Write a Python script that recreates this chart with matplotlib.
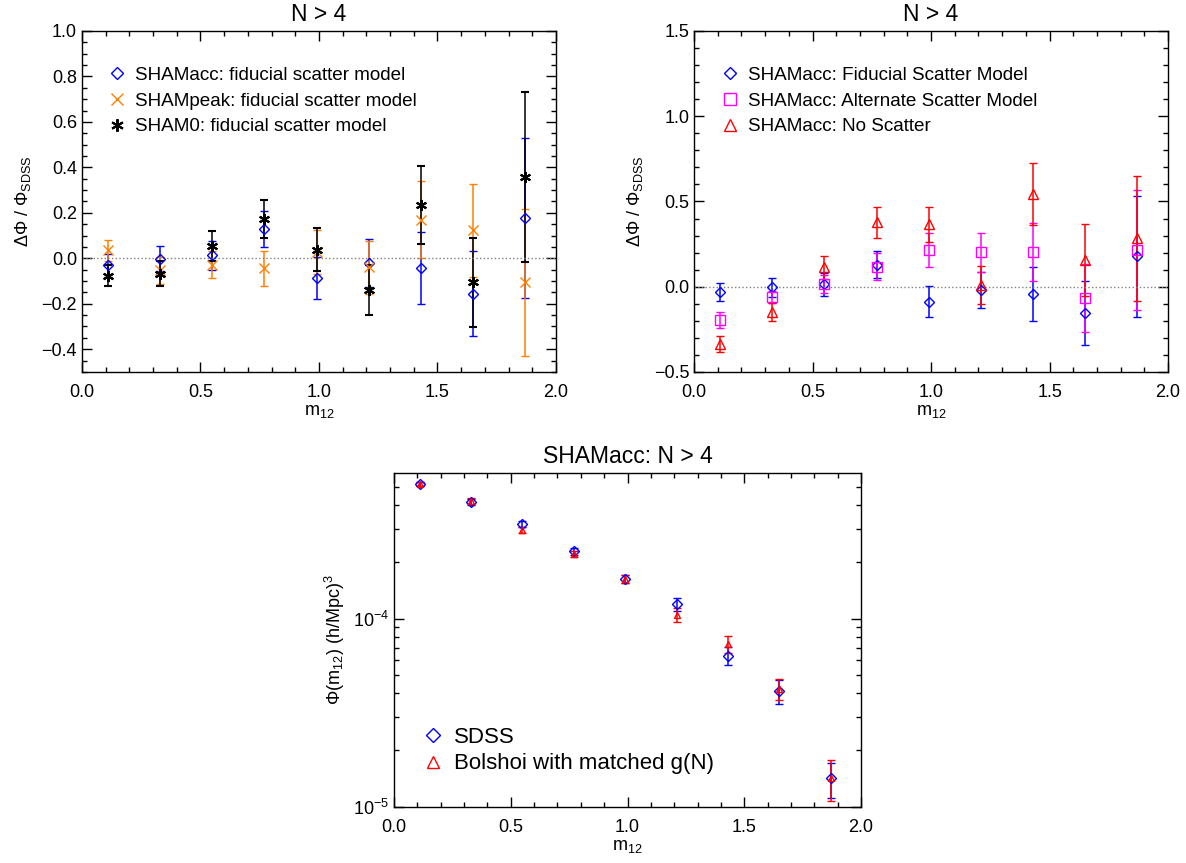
import numpy as np
from matplotlib import pyplot as plt
from matplotlib.lines import Line2D
from matplotlib.ticker import MultipleLocator, NullFormatter, LogLocator

plt.rcParams['font.family'] = ['Liberation Sans', 'DejaVu Sans']
plt.rcParams['mathtext.fontset'] = 'custom'
plt.rcParams['mathtext.rm'] = 'Liberation Sans'
plt.rcParams['mathtext.it'] = 'Liberation Sans:italic'
plt.rcParams['mathtext.default'] = 'regular'

# m12 bin centres (same for every panel)
m12 = [0.11, 0.33, 0.55, 0.77, 0.99, 1.21, 1.43, 1.65, 1.87]

# top left: different SHAM flavours, fiducial scatter
acc_fid = [-0.031, -0.003, 0.013, 0.130, -0.087, -0.021, -0.043, -0.156, 0.178]
acc_fid_err = [0.050, 0.055, 0.065, 0.080, 0.092, 0.105, 0.160, 0.188, 0.353]
peak_fid = [0.035, -0.053, -0.028, -0.043, 0.028, -0.040, 0.170, 0.123, -0.106]
peak_fid_err = [0.045, 0.060, 0.060, 0.077, 0.098, 0.115, 0.170, 0.205, 0.325]
sham0_fid = [-0.076, -0.069, 0.053, 0.173, 0.038, -0.138, 0.233, -0.106, 0.357]
sham0_fid_err = [0.048, 0.055, 0.065, 0.082, 0.095, 0.110, 0.172, 0.195, 0.375]

# top right: SHAMacc with different scatter models
acc_alt = [-0.195, -0.059, 0.016, 0.117, 0.215, 0.201, 0.201, -0.064, 0.215]
acc_alt_err = [0.048, 0.035, 0.050, 0.078, 0.100, 0.115, 0.170, 0.200, 0.350]
acc_nosc = [-0.336, -0.148, 0.113, 0.377, 0.365, 0.010, 0.543, 0.156, 0.283]
acc_nosc_err = [0.045, 0.053, 0.070, 0.090, 0.100, 0.110, 0.180, 0.210, 0.365]

# bottom: luminosity gap function
phi_sdss = [5.20e-4, 4.14e-4, 3.17e-4, 2.27e-4, 1.63e-4, 1.19e-4, 6.36e-5, 4.10e-5, 1.42e-5]
phi_sdss_err = [1.2e-5, 1.5e-5, 1.2e-5, 0.9e-5, 0.8e-5, 1.0e-5, 6.7e-6, 6.0e-6, 3.0e-6]
phi_bol = [5.20e-4, 4.22e-4, 2.96e-4, 2.20e-4, 1.63e-4, 1.05e-4, 7.32e-5, 4.24e-5, 1.42e-5]
phi_bol_err = [1.2e-5, 1.5e-5, 1.0e-5, 0.8e-5, 0.8e-5, 0.9e-5, 7.5e-6, 5.6e-6, 3.5e-6]

ORANGE = '#ff8000'
FS = 13
AST = (6, 2, 0)  # six-armed asterisk like IDL psym=2

fig = plt.figure(figsize=(11.86, 8.63), dpi=100)
ax1 = fig.add_axes([0.0691, 0.569, 0.3997, 0.3951])
ax2 = fig.add_axes([0.5852, 0.569, 0.3997, 0.3951])
ax3 = fig.add_axes([0.3322, 0.065, 0.3938, 0.387])


def style(ax):
    ax.tick_params(which='both', direction='in', top=True, right=True, labelsize=FS, width=1)
    ax.tick_params(which='major', length=7)
    ax.tick_params(which='minor', length=3.5)
    ax.tick_params(axis='x', which='major', pad=9)
    ax.xaxis.set_major_locator(MultipleLocator(0.5))
    ax.xaxis.set_minor_locator(MultipleLocator(0.1))
    ax.set_xlim(0, 2)
    ax.set_xlabel('m$_{12}$', fontsize=FS, labelpad=1)
    for s in ax.spines.values():
        s.set_linewidth(1)


def eb(ax, y, yerr, color, marker, ms, mew=1.0):
    ax.errorbar(m12, y, yerr=yerr, fmt='', marker=marker, ls='none', color=color, ms=ms,
                mfc='none', mec=color, mew=mew, ecolor=color, elinewidth=1.1, capsize=3,
                capthick=1.1)


def handle(color, marker, ms, mew=1.0):
    return Line2D([], [], ls='none', marker=marker, color=color, mfc='none', ms=ms, mew=mew)


def legend(ax, handles, labels, anchor, fs, spacing):
    ax.legend(handles, labels, loc='upper left', bbox_to_anchor=anchor, frameon=False,
              fontsize=fs, handlelength=1.0, handletextpad=0.45, labelspacing=spacing,
              borderaxespad=0, borderpad=0)


# ---- top left
eb(ax1, acc_fid, acc_fid_err, 'blue', 'D', 5)
eb(ax1, peak_fid, peak_fid_err, ORANGE, 'x', 7)
eb(ax1, sham0_fid, sham0_fid_err, 'black', AST, 8, mew=1.5)
ax1.axhline(0, color='grey', ls=':', lw=1)
ax1.set_ylim(-0.5, 1.0)
ax1.yaxis.set_major_locator(MultipleLocator(0.2))
ax1.yaxis.set_minor_locator(MultipleLocator(0.05))
ax1.yaxis.set_major_formatter(plt.FuncFormatter(lambda v, p: f'{v:.1f}'.replace('-', '\u2212')))
style(ax1)
ax1.set_ylabel('ΔΦ / Φ$_{SDSS}$', fontsize=FS, labelpad=6)
ax1.set_title('N > 4', fontsize=16.5, pad=7)
legend(ax1, [handle('blue', 'D', 6), handle(ORANGE, 'x', 8), handle('black', AST, 9, 1.5)],
       ['SHAMacc: fiducial scatter model', 'SHAMpeak: fiducial scatter model',
        'SHAM0: fiducial scatter model'], (0.055, 0.895), 13.6, 0.45)

# ---- top right
eb(ax2, acc_fid, acc_fid_err, 'blue', 'D', 5)
eb(ax2, acc_alt, acc_alt_err, 'magenta', 's', 7)
eb(ax2, acc_nosc, acc_nosc_err, 'red', '^', 7.5)
ax2.axhline(0, color='grey', ls=':', lw=1)
ax2.set_ylim(-0.5, 1.5)
ax2.yaxis.set_major_locator(MultipleLocator(0.5))
ax2.yaxis.set_minor_locator(MultipleLocator(0.1))
ax2.yaxis.set_major_formatter(plt.FuncFormatter(lambda v, p: f'{v:.1f}'.replace('-', '\u2212')))
style(ax2)
ax2.set_ylabel('ΔΦ / Φ$_{SDSS}$', fontsize=FS, labelpad=6)
ax2.set_title('N > 4', fontsize=16.5, pad=7)
legend(ax2, [handle('blue', 'D', 6), handle('magenta', 's', 8), handle('red', '^', 8.5)],
       ['SHAMacc: Fiducial Scatter Model', 'SHAMacc: Alternate Scatter Model',
        'SHAMacc: No Scatter'], (0.055, 0.895), 13.6, 0.45)

# ---- bottom
ax3.errorbar(m12, phi_sdss, yerr=phi_sdss_err, fmt='D', color='blue', ms=5, mfc='none',
             mew=1.0, elinewidth=1.1, capsize=3, capthick=1.1)
ax3.errorbar(m12, phi_bol, yerr=phi_bol_err, fmt='^', color='red', ms=5, mfc='none',
             mew=1.0, elinewidth=1.1, capsize=3, capthick=1.1)
ax3.set_yscale('log')
ax3.set_ylim(1e-5, 5.93e-4)
ax3.yaxis.set_major_locator(LogLocator(base=10))
ax3.yaxis.set_minor_locator(LogLocator(base=10, subs=np.arange(2, 10)))
ax3.yaxis.set_minor_formatter(NullFormatter())
style(ax3)
ax3.set_ylabel('Φ(m$_{12}$) (h/Mpc)$^3$', fontsize=FS, labelpad=4)
ax3.set_title('SHAMacc: N > 4', fontsize=16.5, pad=7)
legend(ax3, [handle('blue', 'D', 7.5), handle('red', '^', 9)],
       ['SDSS', 'Bolshoi with matched g(N)'], (0.06, 0.24), 16, 0.25)

fig.savefig('out.png', dpi=100)
